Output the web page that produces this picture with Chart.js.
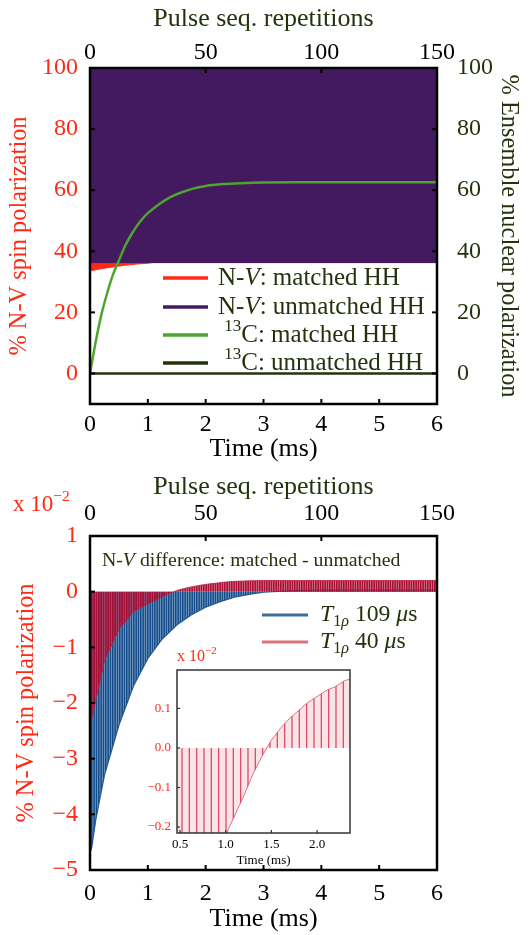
<!DOCTYPE html>
<html lang="en">
<head>
<meta charset="UTF-8">
<title>N-V spin and 13C polarization</title>
<script src="https://cdn.jsdelivr.net/npm/chart.js"></script>
<style>
  body { margin: 0; background: #fff; }
  #wrap { position: relative; width: 531px; height: 935px; overflow: hidden; }
  canvas { position: absolute; left: 0; }
</style>
</head>
<body>
<div id="wrap">
  <canvas id="chart-top" width="531" height="465" style="top:0"></canvas>
  <canvas id="chart-bottom" width="531" height="475" style="top:460px"></canvas>
  <canvas id="chart-inset" width="240" height="240" style="top:640px; left:130px"></canvas>
</div>
<script>
const SERIF = "'Liberation Serif', 'DejaVu Serif', serif";
Chart.defaults.font.family = SERIF;
Chart.defaults.color = '#000';

const RED = '#ff2a14', OLIVE = '#24330c', PURPLE = '#431a5f', GREEN = '#4ca52c';

// ---- axis ticks
const timeTicks = [0, 1, 2, 3, 4, 5, 6];
const repTicks = [0, 50, 100, 150];
const spinTicks = [0, 20, 40, 60, 80, 100];
const diffTicks = [-5, -4, -3, -2, -1, 0, 1];
const insetTimeTicks = [0.5, 1.0, 1.5, 2.0];
const insetDiffTicks = [-0.2, -0.1, 0.0, 0.1];

// ---- top panel: lower edge of the N-V sawtooth bands (upper edge is 100 %)
const nvMatchedTime = [0, 0.2, 0.4, 0.6, 0.8, 1.0, 1.1, 6];
const nvMatchedLow = [33.6, 34.3, 34.9, 35.4, 35.8, 36.1, 36.3, 36.3];
const nvUnmatchedTime = [0, 6];
const nvUnmatchedLow = [36.3, 36.3];
// 13C nuclear polarization
const c13Time = [0, 0.1, 0.2, 0.3, 0.4, 0.5, 0.6, 0.7, 0.8, 0.9, 1.0, 1.2, 1.4, 1.6, 1.8, 2.0, 2.3, 2.6, 3.0, 4.0, 5.0, 6.0];
const c13Matched = [0, 10.5, 19.5, 26.5, 32.5, 37, 41.5, 45, 48, 50.5, 52.5, 55.5, 57.8, 59.4, 60.6, 61.4, 62.0, 62.3, 62.5, 62.6, 62.6, 62.6];
const c13UnmatchedTime = [0, 6];
const c13Unmatched = [0, 0];

// ---- bottom panel: envelope of matched - unmatched difference (x 10^-2 %)
const slowTime = [0, 0.03, 0.1, 0.25, 0.5, 0.75, 1.0, 1.25, 1.5, 1.75, 2.0, 2.25, 2.5, 2.75, 3.0, 3.5, 4, 5, 6];
const slowDiff = [-4.7, -4.6, -4.1, -3.3, -2.4, -1.7, -1.2, -0.85, -0.6, -0.42, -0.28, -0.18, -0.1, -0.05, -0.01, 0.02, 0.03, 0.03, 0.03];
const fastTime = [0, 0.05, 0.1, 0.25, 0.5, 0.75, 1.0, 1.1, 1.2, 1.3, 1.4, 1.45, 1.5, 1.6, 1.7, 1.8, 1.9, 2.0, 2.1, 2.2, 2.3, 2.5, 2.75, 3.0, 4, 5, 6];
const fastDiff = [-2.4, -2.2, -1.95, -1.25, -0.68, -0.36, -0.22, -0.17, -0.12, -0.065, -0.02, 0, 0.02, 0.05, 0.075, 0.095, 0.115, 0.13, 0.145, 0.155, 0.17, 0.185, 0.195, 0.2, 0.2, 0.2, 0.2];

const pts = (xs, ys) => xs.map((x, i) => ({ x, y: ys[i] }));
const fixTicks = list => scale => { scale.ticks = list.map(v => ({ value: v })); };
const minus = v => String(v).replace('-', '\u2212');

// dense repetition lines drawn as a stripe pattern
function stripes(canvasId, w, period, lineW, lineColor, bg) {
  const c = document.createElement('canvas');
  c.width = w; c.height = 4;
  const g = c.getContext('2d');
  g.fillStyle = bg; g.fillRect(0, 0, w, 4);
  g.fillStyle = lineColor;
  for (let x = 0; x < w - 0.01; x += period) g.fillRect(x, 0, lineW, 4);
  return document.getElementById(canvasId).getContext('2d').createPattern(c, 'repeat');
}

function drawRich(ctx, n) {
  ctx.save();
  ctx.fillStyle = n.color;
  ctx.textBaseline = 'middle';
  ctx.textAlign = 'left';
  let x = n.x;
  for (const p of n.parts) {
    const size = (p.sup || p.sub) ? n.size * 0.68 : n.size;
    ctx.font = (p.it ? 'italic ' : '') + size + 'px ' + SERIF;
    const dy = p.sup ? -n.size * 0.35 : p.sub ? n.size * 0.3 : 0;
    ctx.fillText(p.t, x, n.y + dy);
    x += ctx.measureText(p.t).width;
  }
  ctx.restore();
}

// box around the plot + inward tick marks
const frame = {
  id: 'frame',
  afterDatasetsDraw(chart, args, o) {
    const { ctx, chartArea: a } = chart;
    ctx.save();
    ctx.strokeStyle = o.color;
    ctx.lineWidth = o.tickWidth;
    for (const id of o.tickScales) {
      const s = chart.scales[id];
      for (const t of s.ticks) {
        const p = s.getPixelForValue(t.value);
        ctx.beginPath();
        if (s.position === 'left') { ctx.moveTo(a.left, p); ctx.lineTo(a.left + o.len, p); }
        else if (s.position === 'right') { ctx.moveTo(a.right, p); ctx.lineTo(a.right - o.len, p); }
        else if (s.position === 'top') { ctx.moveTo(p, a.top); ctx.lineTo(p, a.top + o.len); }
        else { ctx.moveTo(p, a.bottom); ctx.lineTo(p, a.bottom - o.len); }
        ctx.stroke();
      }
    }
    ctx.lineWidth = o.width;
    ctx.strokeRect(a.left, a.top, a.right - a.left, a.bottom - a.top);
    ctx.restore();
  }
};

// legends and notes with italics / super- and subscripts
const notes = {
  id: 'notes',
  afterDraw(chart, args, o) {
    const ctx = chart.ctx;
    for (const s of o.swatches || []) {
      ctx.save();
      ctx.strokeStyle = s.color; ctx.lineWidth = s.width;
      ctx.beginPath(); ctx.moveTo(s.x1, s.y); ctx.lineTo(s.x2, s.y); ctx.stroke();
      ctx.restore();
    }
    for (const n of o.texts || []) drawRich(ctx, n);
  }
};

const axisBase = { grid: { display: false, drawTicks: false }, border: { display: false } };

// ================= top panel =================
new Chart(document.getElementById('chart-top'), {
  type: 'line',
  data: {
    datasets: [
      { label: 'N-V: matched HH', data: pts(nvMatchedTime, nvMatchedLow), borderColor: RED, backgroundColor: RED, borderWidth: 1, fill: { value: 100 }, order: 4 },
      { label: 'N-V: unmatched HH', data: pts(nvUnmatchedTime, nvUnmatchedLow), borderColor: PURPLE, backgroundColor: PURPLE, borderWidth: 1, fill: { value: 100 }, order: 3 },
      { label: '13C: matched HH', data: pts(c13Time, c13Matched), borderColor: GREEN, borderWidth: 2.5, tension: 0.3, fill: false, order: 1 },
      { label: '13C: unmatched HH', data: pts(c13UnmatchedTime, c13Unmatched), borderColor: OLIVE, borderWidth: 2.5, fill: false, order: 2 }
    ]
  },
  options: {
    responsive: false,
    animation: false,
    elements: { point: { radius: 0 } },
    layout: { padding: 0 },
    plugins: {
      legend: { display: false },
      tooltip: { enabled: false },
      frame: { color: '#000', width: 2.5, tickWidth: 2, len: 5, tickScales: ['x', 'xTop', 'y', 'y2'] },
      notes: {
        swatches: [
          { x1: 163, x2: 208, y: 278, color: RED, width: 3.5 },
          { x1: 163, x2: 208, y: 307, color: PURPLE, width: 3.5 },
          { x1: 163, x2: 208, y: 335, color: GREEN, width: 3.5 },
          { x1: 163, x2: 208, y: 363, color: OLIVE, width: 3.5 }
        ],
        texts: [
          { x: 218, y: 278, size: 25, color: OLIVE, parts: [{ t: 'N-' }, { t: 'V', it: true }, { t: ': matched HH' }] },
          { x: 218, y: 307, size: 25, color: OLIVE, parts: [{ t: 'N-' }, { t: 'V', it: true }, { t: ': unmatched HH' }] },
          { x: 218, y: 335, size: 25, color: OLIVE, parts: [{ t: ' ' }, { t: '13', sup: true }, { t: 'C: matched HH' }] },
          { x: 218, y: 363, size: 25, color: OLIVE, parts: [{ t: ' ' }, { t: '13', sup: true }, { t: 'C: unmatched HH' }] }
        ]
      }
    },
    scales: {
      x: {
        ...axisBase, type: 'linear', position: 'bottom', min: 0, max: 6,
        afterBuildTicks: fixTicks(timeTicks),
        ticks: { color: '#000', font: { size: 24 }, padding: 6, maxRotation: 0 },
        title: { display: true, text: 'Time (ms)', color: '#000', font: { size: 26 }, padding: { top: 0, bottom: 0 } },
        afterFit: s => { s.height = 61; }
      },
      xTop: {
        ...axisBase, type: 'linear', position: 'top', min: 0, max: 150,
        afterBuildTicks: fixTicks(repTicks),
        ticks: { color: '#000', font: { size: 24 }, padding: 1, maxRotation: 0 },
        title: { display: true, text: 'Pulse seq. repetitions', color: OLIVE, font: { size: 26 }, padding: { top: 4, bottom: 0 } },
        afterFit: s => { s.height = 68; }
      },
      y: {
        ...axisBase, type: 'linear', position: 'left', min: -10, max: 100,
        afterBuildTicks: fixTicks(spinTicks),
        ticks: { color: RED, font: { size: 24 }, padding: 12 },
        title: { display: true, text: '% N-V spin polarization', color: RED, font: { size: 24.4 }, padding: { top: 5, bottom: 0 } },
        afterFit: s => { s.width = 90; }
      },
      y2: {
        ...axisBase, type: 'linear', position: 'right', min: -10, max: 100,
        afterBuildTicks: fixTicks(spinTicks),
        ticks: { color: OLIVE, font: { size: 24 }, padding: 20 },
        title: { display: true, text: '% Ensemble nuclear polarization', color: OLIVE, font: { size: 24.4 }, padding: { top: 8, bottom: 0 } },
        afterFit: s => { s.width = 94; }
      }
    }
  },
  plugins: [frame, notes]
});

// ================= bottom panel =================
const blueFill = stripes('chart-bottom', 7, 2.333, 1.6, 'rgba(18,72,134,0.97)', 'rgba(62,120,180,0.6)');
const redFill = stripes('chart-bottom', 7, 2.333, 1.6, 'rgba(164,12,52,0.97)', 'rgba(200,50,82,0.6)');

new Chart(document.getElementById('chart-bottom'), {
  type: 'line',
  data: {
    datasets: [
      { label: 'T1ρ 40 μs', data: pts(fastTime, fastDiff), borderColor: 'rgba(190,30,65,0.8)', borderWidth: 1, backgroundColor: redFill, fill: { value: 0 }, order: 1 },
      { label: 'T1ρ 109 μs', data: pts(slowTime, slowDiff), borderColor: 'rgba(25,80,140,0.9)', borderWidth: 1.2, backgroundColor: blueFill, fill: { value: 0 }, order: 2 }
    ]
  },
  options: {
    responsive: false,
    animation: false,
    elements: { point: { radius: 0 } },
    layout: { padding: { right: 94 } },
    plugins: {
      legend: { display: false },
      tooltip: { enabled: false },
      frame: { color: '#000', width: 2.5, tickWidth: 2, len: 5, tickScales: ['x', 'xTop', 'y'] },
      notes: {
        swatches: [
          { x1: 262, x2: 308, y: 155, color: '#3a6d9c', width: 3 },
          { x1: 262, x2: 308, y: 182, color: '#e2707c', width: 3 }
        ],
        texts: [
          { x: 13, y: 45, size: 23, color: RED, parts: [{ t: 'x 10' }, { t: '\u22122', sup: true }] },
          { x: 102, y: 101, size: 19.8, color: OLIVE, parts: [{ t: 'N-' }, { t: 'V', it: true }, { t: ' difference: matched - unmatched' }] },
          { x: 320, y: 155, size: 23.7, color: OLIVE, parts: [{ t: 'T', it: true }, { t: '1', sub: true }, { t: 'ρ', sub: true, it: true }, { t: ' 109 ' }, { t: 'μ', it: true }, { t: 's' }] },
          { x: 320, y: 182, size: 23.7, color: OLIVE, parts: [{ t: 'T', it: true }, { t: '1', sub: true }, { t: 'ρ', sub: true, it: true }, { t: ' 40 ' }, { t: 'μ', it: true }, { t: 's' }] }
        ]
      }
    },
    scales: {
      x: {
        ...axisBase, type: 'linear', position: 'bottom', min: 0, max: 6,
        afterBuildTicks: fixTicks(timeTicks),
        ticks: { color: '#000', font: { size: 24 }, padding: 9, maxRotation: 0 },
        title: { display: true, text: 'Time (ms)', color: '#000', font: { size: 26 }, padding: { top: 0, bottom: 0 } },
        afterFit: s => { s.height = 65; }
      },
      xTop: {
        ...axisBase, type: 'linear', position: 'top', min: 0, max: 150,
        afterBuildTicks: fixTicks(repTicks),
        ticks: { color: '#000', font: { size: 24 }, padding: 8, maxRotation: 0 },
        title: { display: true, text: 'Pulse seq. repetitions', color: OLIVE, font: { size: 26 }, padding: { top: 12, bottom: 0 } },
        afterFit: s => { s.height = 76; }
      },
      y: {
        ...axisBase, type: 'linear', position: 'left', min: -5, max: 1,
        afterBuildTicks: fixTicks(diffTicks),
        ticks: { color: RED, font: { size: 24 }, padding: 12, callback: minus },
        title: { display: true, text: '% N-V spin polarization', color: RED, font: { size: 24.4 }, padding: { top: 12, bottom: 0 } },
        afterFit: s => { s.width = 90; }
      }
    }
  },
  plugins: [frame, notes]
});

// ================= inset =================
const insetFill = stripes('chart-inset', 22, 7.333, 1.3, 'rgba(214,60,88,0.9)', 'rgba(232,130,145,0.22)');

new Chart(document.getElementById('chart-inset'), {
  type: 'line',
  data: {
    datasets: [
      { label: 'T1ρ 40 μs', data: pts(fastTime, fastDiff), borderColor: 'rgba(214,60,88,0.7)', borderWidth: 1, backgroundColor: insetFill, fill: { value: 0 } }
    ]
  },
  options: {
    responsive: false,
    animation: false,
    elements: { point: { radius: 0 } },
    layout: { padding: { top: 30, right: 20 } },
    plugins: {
      legend: { display: false },
      tooltip: { enabled: false },
      frame: { color: '#333', width: 1.5, tickWidth: 1.2, len: 3, tickScales: ['x', 'y'] },
      notes: {
        texts: [
          { x: 47, y: 17, size: 16, color: RED, parts: [{ t: 'x 10' }, { t: '\u22122', sup: true }] }
        ]
      }
    },
    scales: {
      x: {
        ...axisBase, type: 'linear', position: 'bottom', min: 0.467, max: 2.36,
        afterBuildTicks: fixTicks(insetTimeTicks),
        ticks: { color: '#000', font: { size: 13 }, padding: 4, maxRotation: 0, callback: v => v.toFixed(1) },
        title: { display: true, text: 'Time (ms)', color: '#000', font: { size: 13 }, padding: { top: 0, bottom: 12 } },
        afterFit: s => { s.height = 47; }
      },
      y: {
        ...axisBase, type: 'linear', position: 'left', min: -0.215, max: 0.197,
        afterBuildTicks: fixTicks(insetDiffTicks),
        ticks: { color: RED, font: { size: 13 }, padding: 6, callback: v => minus(v.toFixed(1)) },
        afterFit: s => { s.width = 47; }
      }
    }
  },
  plugins: [frame, notes]
});
</script>
</body>
</html>
